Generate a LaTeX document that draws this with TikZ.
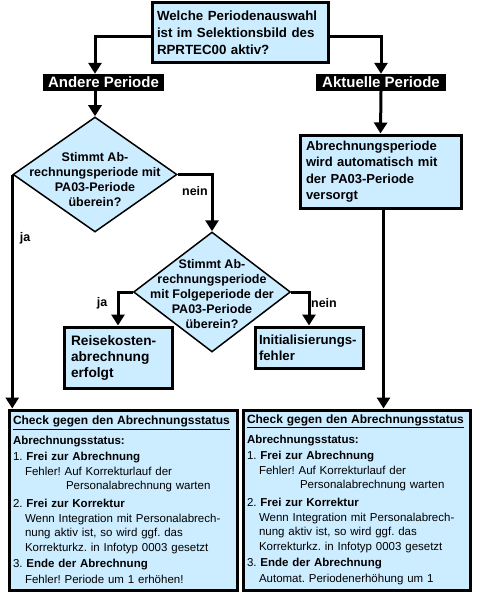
\documentclass[tikz,border=0pt]{standalone}
\usepackage{fontspec}
\setmainfont{Liberation Sans}
\usetikzlibrary{arrows.meta, shapes.geometric, calc}
\definecolor{hellblau}{RGB}{204,236,255}
\frenchspacing

\newcommand{\statusliste}[1]{%
  {\fontsize{12}{14.5}\selectfont\underline{\textbf{Check gegen den Abrechnungsstatus}}}\\[5.5pt]
  \textbf{Abrechnungsstatus:}\\[1.5pt]
  1.~\textbf{Frei zur Abrechnung}\\
  \hspace*{12pt}Fehler! Auf Korrekturlauf der\\
  \hspace*{53pt}Personalabrechnung warten\\[3.5pt]
  2.~\textbf{Frei zur Korrektur}\\
  \hspace*{12pt}Wenn Integration mit Personalabrech-\\
  \hspace*{12pt}nung aktiv ist, so wird ggf. das\\
  \hspace*{12pt}Korrekturkz. in Infotyp 0003 gesetzt\\[1.5pt]
  3.~\textbf{Ende der Abrechnung}\\[2pt]
  \hspace*{12pt}#1}

\begin{document}
\begin{tikzpicture}[x=1pt, y=-1pt,
    kasten/.style={draw, line width=3pt, fill=hellblau, align=left, inner ysep=2pt,
      font=\fontsize{13}{16.5}\selectfont\bfseries},
    marke/.style={fill=black, text=white, inner sep=0pt, minimum height=17pt,
      font=\fontsize{15}{16}\selectfont\bfseries},
    raute/.style={diamond, draw, line width=1.5pt, fill=hellblau, inner sep=0pt},
    zweig/.style={font=\fontsize{12.5}{14.8}\selectfont\bfseries},
    status/.style={kasten, inner xsep=4pt, minimum height=180pt,
      font=\fontsize{11.5}{14.5}\selectfont},
    pfeil/.style={line width=3pt, -{Triangle[width=13pt,length=11pt]}}]
  \useasboundingbox (0,0) rectangle (479,599);

  % Auswahl im Selektionsbild
  \node[kasten, text width=166pt, inner xsep=5pt, minimum height=60pt,
    font=\fontsize{13.3}{17}\selectfont\bfseries] (frage) at (240,33)
    {Welche Periodenauswahl\\ist im Selektionsbild des\\RPRTEC00 aktiv?};
  \node[marke, minimum width=121pt] (andere) at (103.5,82.5) {Andere Periode};
  \node[marke, minimum width=130pt] (aktuelle) at (381,82.5) {Aktuelle Periode};

  % rechter Zweig
  \node[kasten, text width=149pt, inner xsep=6pt, minimum height=73pt] (versorgt) at (380.5,171.5)
    {Abrechnungsperiode\\wird automatisch mit\\der PA03-Periode\\versorgt};

  % linker Zweig
  \node[raute, minimum width=164pt, minimum height=115pt,
    label={[zweig, align=center, yshift=-5pt]center:Stimmt Ab-\\rechnungsperiode mit\\PA03-Periode\\überein?}]
    (raute1) at (95,174.5) {};
  \node[raute, minimum width=157pt, minimum height=120pt,
    label={[zweig, align=center, yshift=-2pt]center:Stimmt Ab-\\rechnungsperiode\\mit Folgeperiode der\\PA03-Periode\\überein?}]
    (raute2) at (212,292) {};
  \node[kasten, text width=94pt, inner xsep=7pt, minimum height=61pt,
    font=\fontsize{13.7}{16}\selectfont\bfseries] (reise) at (118,357.5)
    {Reisekosten-\\abrechnung\\erfolgt};
  \node[kasten, text width=100pt, inner xsep=4pt, minimum height=41pt,
    font=\fontsize{13.2}{16}\selectfont\bfseries] (init) at (309,347.5)
    {Initialisierungs-\\fehler};

  % Status-Check
  \node[status, text width=220pt] (status1) at (123,500)
    {\statusliste{Fehler! Periode um 1 erhöhen!}};
  \node[status, text width=219pt] (status2) at (356.5,500)
    {\statusliste{Automat. Periodenerhöhung um 1}};

  % Verbindungen
  \draw[pfeil] ([yshift=-4pt]frage.west) -| (raute1.north |- andere.north);
  \draw[pfeil] ([yshift=-4pt]frage.east) -| (aktuelle.north);
  \draw[pfeil] (raute1.north |- andere.south) -- (raute1.north);
  \draw[pfeil] (aktuelle.south) -- (versorgt.north);
  \draw[pfeil] ([xshift=3pt]versorgt.south) -- ([xshift=3pt]versorgt.south |- status2.north);
  \draw[pfeil] (raute1.west) -- (raute1.west |- status1.north);
  \draw[pfeil] (raute1.east) -| (raute2.north);
  \draw[pfeil] (raute2.west) -| (reise.north);
  \draw[pfeil] (raute2.east) -| (init.north);

  \node[zweig] (ja1) at (25,238) {ja};
  \node[zweig] (nein1) at (195,191) {nein};
  \node[zweig] (ja2) at (102,303) {ja};
  \node[zweig] (nein2) at (324,303) {nein};
\end{tikzpicture}
\end{document}
